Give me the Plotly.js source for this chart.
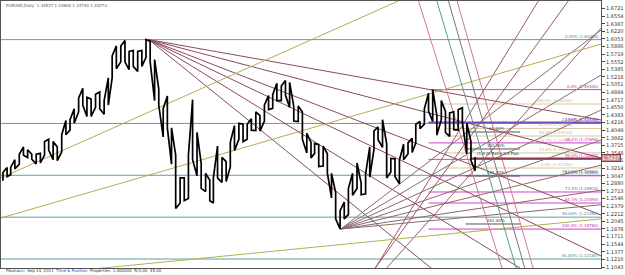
<!DOCTYPE html>
<html><head><meta charset="utf-8">
<script src="https://cdn.plot.ly/plotly-3.0.1.min.js"></script>
<style>html,body{margin:0;padding:0;background:#fff;}#c{width:625px;height:275px;}</style>
</head><body><div id="c"></div>
<script>
// ---- price data: half-month high / low (EURUSD daily) ----
const months = ['2007-02','2007-03','2007-04','2007-05','2007-06','2007-07','2007-08','2007-09','2007-10','2007-11','2007-12',
'2008-01','2008-02','2008-03','2008-04','2008-05','2008-06','2008-07','2008-08','2008-09','2008-10','2008-11','2008-12',
'2009-01','2009-02','2009-03','2009-04','2009-05','2009-06','2009-07','2009-08','2009-09','2009-10','2009-11','2009-12',
'2010-01','2010-02','2010-03','2010-04','2010-05','2010-06','2010-07','2010-08','2010-09','2010-10','2010-11','2010-12',
'2011-01','2011-02','2011-03','2011-04','2011-05','2011-06','2011-07','2011-08','2011-09','2011-10'];
const hi = [1.312,1.323,1.323,1.340,1.352,1.368,1.362,1.352,1.352,1.354,1.380,1.385,1.380,1.368,1.395,1.426,1.428,1.452,1.475,1.497,1.477,1.473,
1.484,1.489,1.470,1.520,1.568,1.590,1.590,1.602,1.578,1.580,1.578,1.580,1.604,1.600,1.560,1.495,1.452,1.480,1.410,1.350,1.300,1.300,1.350,1.472,
1.400,1.332,1.310,1.295,1.300,1.370,1.345,1.336,1.378,1.415,1.420,1.418,1.418,1.430,1.445,1.437,1.460,1.481,1.483,1.508,1.502,1.514,1.510,1.457,
1.458,1.445,1.398,1.378,1.376,1.373,1.370,1.353,1.310,1.268,1.228,1.247,1.277,1.310,1.333,1.288,1.309,1.368,1.403,1.412,1.428,1.375,1.343,1.342,
1.339,1.374,1.377,1.387,1.418,1.424,1.452,1.486,1.494,1.437,1.470,1.446,1.443,1.445,1.450,1.454,1.420,1.380,1.346];
const lo = [1.294,1.303,1.307,1.320,1.330,1.350,1.345,1.341,1.331,1.333,1.350,1.361,1.340,1.338,1.357,1.395,1.405,1.420,1.445,1.460,1.435,1.435,
1.455,1.452,1.440,1.460,1.520,1.540,1.555,1.555,1.538,1.545,1.534,1.545,1.565,1.555,1.470,1.460,1.390,1.410,1.330,1.233,1.245,1.250,1.255,1.340,
1.305,1.277,1.270,1.250,1.245,1.300,1.290,1.292,1.324,1.360,1.385,1.380,1.385,1.405,1.404,1.403,1.425,1.450,1.453,1.470,1.470,1.482,1.455,1.425,
1.424,1.385,1.355,1.344,1.354,1.325,1.326,1.311,1.256,1.210,1.188,1.210,1.220,1.262,1.277,1.263,1.265,1.302,1.362,1.384,1.367,1.300,1.313,1.303,
1.287,1.340,1.353,1.356,1.377,1.408,1.418,1.447,1.424,1.394,1.428,1.400,1.391,1.406,1.405,1.422,1.353,1.338,1.316];
const lastPrice = 1.3427;

// ---- axis ----
const xStart = '2007-01-29', xEnd = '2013-01-01';
const yMin = 1.1021, yMax = 1.6887;
const tickStart = 1.1043, tickStep = 0.0167, tickCount = 35;

// ---- full-width fibo levels (teal) ----
const tealLevels = [1.6038, 1.4197, 1.3058, 1.2138, 1.1218];
const tealPct = ['0.00%', '23.60%', '38.20%', '50.00%', '61.80%'];

// ---- magenta fibo ----
const magStart = '2011-04-20';
const magHigh = 1.4940, magLow = 1.1876;
const magPct = [0, 23.6, 38.2, 50, 61.8, 73.4, 81.3, 100];

// ---- beige fibo ----
const begStart = '2011-06-15';
const begLow = 1.3218, begHigh = 1.4624;
const begPct = [0, 23.6, 38.2, 50, 61.8, 100];

// ---- grey expansion ----
const grStart = '2011-09-01', grEnd = '2012-03-15';
const grPrices = [1.4009, 1.3636, 1.3042, 1.1988];
const grPct = ['61.80%', '100.00%', '161.80%', '261.80%'];

// ---- fan from the 2008 top ----
const fanATime = '2008-07-15', fanAPrice = 1.6038;
const fanAEnds = [1.4273, 1.3438, 1.2185, 1.1285, 0.9922, 0.80];
// ---- fan from the 2010 low ----
const fanBTime = '2010-06-07', fanBPrice = 1.1876;
const fanBEnds = [1.625, 1.526, 1.449, 1.383, 1.328, 1.273, 1.241];
// ---- rising fan from below the chart [t1,p1,t2,p2] ----
const riseLines = [['2010-10-10',1.1021,'2012-05-20',1.6887],['2010-10-10',1.1021,'2012-09-05',1.6887],['2010-11-20',1.1021,'2013-01-01',1.6290]];
// ---- olive channel lines ----
const oliveLines = [['2007-01-29',1.2120,'2013-01-01',1.5940],['2007-01-29',1.3000,'2011-01-01',1.6887],['2007-01-29',1.0800,'2013-01-01',1.2100]];
// ---- steep time lines [t1,p1,t2,p2,color] ----
const steepLines = [['2011-03-15',1.6887,'2012-01-10',1.1021,'#d07890'],['2011-05-20',1.6887,'2012-03-01',1.1021,'#5a9a9a'],
['2011-07-01',1.6887,'2012-04-01',1.1021,'#777777'],['2011-08-01',1.6887,'2012-05-01',1.1021,'#d07890']];

function seg(list){const x=[],y=[];list.forEach(s=>{x.push(s[0],s[2],null);y.push(s[1],s[3],null);});return {x,y};}

const traces = [];
const px=[],py=[];
months.forEach((m,i)=>{
  const d1 = m+'-05', d2 = m+'-20';
  const a=2*i, b=2*i+1;
  if (a < hi.length){ px.push(d1,d1); py.push(lo[a],hi[a]); }
  if (b < hi.length){ px.push(d2,d2); py.push(hi[b],lo[b]); }
});
tealLevels.forEach(p=>traces.push({x:[xStart,xEnd],y:[p,p],mode:'lines',line:{color:'#5f9ea0',width:1},hoverinfo:'skip'}));
magPct.forEach(q=>{const p=magHigh-(magHigh-magLow)*q/100;traces.push({x:[magStart,xEnd],y:[p,p],mode:'lines',line:{color:'#d040c0',width:1},hoverinfo:'skip'});});
begPct.forEach(q=>{const p=begLow+(begHigh-begLow)*q/100;traces.push({x:[begStart,xEnd],y:[p,p],mode:'lines',line:{color:'#d8c8a0',width:1},hoverinfo:'skip'});});
grPrices.forEach(p=>traces.push({x:[grStart,grEnd],y:[p,p],mode:'lines',line:{color:'#555',width:1},hoverinfo:'skip'}));
traces.push(Object.assign(seg(fanAEnds.map(e=>[fanATime,fanAPrice,xEnd,e])),{mode:'lines',line:{color:'#8b4a5a',width:1},hoverinfo:'skip'}));
traces.push(Object.assign(seg(fanBEnds.map(e=>[fanBTime,fanBPrice,xEnd,e])),{mode:'lines',line:{color:'#8a6a6a',width:1},hoverinfo:'skip'}));
traces.push(Object.assign(seg(riseLines),{mode:'lines',line:{color:'#9a5a6a',width:1},hoverinfo:'skip'}));
traces.push(Object.assign(seg(oliveLines),{mode:'lines',line:{color:'#b0b050',width:1},hoverinfo:'skip'}));
steepLines.forEach(s=>traces.push({x:[s[0],s[2]],y:[s[1],s[3]],mode:'lines',line:{color:s[4],width:1},hoverinfo:'skip'}));
traces.push({x:['2011-04-20',xEnd],y:[1.4217,1.4217],mode:'lines',line:{color:'#7050c0',width:2},hoverinfo:'skip'});
traces.push({x:['2011-09-20',xEnd],y:[lastPrice,lastPrice],mode:'lines',line:{color:'#8b3a4a',width:2},hoverinfo:'skip'});
traces.push({x:px,y:py,mode:'lines',line:{color:'#000',width:1.7},hoverinfo:'skip'});

const ann = [];
const tf = {family:'DejaVu Sans',size:4};
tealLevels.forEach((p,i)=>ann.push({x:xEnd,y:p,xref:'x',yref:'y',text:tealPct[i]+' ('+p.toFixed(5)+')',showarrow:false,xanchor:'right',yanchor:'bottom',yshift:-1,font:Object.assign({color:'#4a8a8a'},tf)}));
magPct.forEach(q=>{const p=magHigh-(magHigh-magLow)*q/100;ann.push({x:xEnd,y:p,xref:'x',yref:'y',text:q.toFixed(1)+'% ('+p.toFixed(5)+')',showarrow:false,xanchor:'right',yanchor:'bottom',yshift:-1,font:Object.assign({color:'#c030b0'},tf)});});
begPct.forEach(q=>{const p=begLow+(begHigh-begLow)*q/100;ann.push({x:'2012-10-01',y:p,xref:'x',yref:'y',text:q.toFixed(1)+'% ('+p.toFixed(5)+')',showarrow:false,xanchor:'right',yanchor:'bottom',yshift:-1,font:Object.assign({color:'#c8b890'},tf)});});
grPrices.forEach((p,i)=>ann.push({x:'2011-12-20',y:p,xref:'x',yref:'y',text:grPct[i],showarrow:false,xanchor:'center',yanchor:'bottom',yshift:-1,font:Object.assign({color:'#444'},tf)}));
ann.push({x:'2011-10-05',y:lastPrice,xref:'x',yref:'y',text:'(1:0.0) Ratio 0.0 Pips',showarrow:false,xanchor:'left',yanchor:'bottom',font:Object.assign({color:'#333'},tf)});
ann.push({x:1,y:lastPrice,xref:'paper',yref:'y',text:lastPrice.toFixed(4),showarrow:false,xanchor:'left',yanchor:'middle',bgcolor:'#c89090',bordercolor:'#8b3a4a',borderwidth:1,borderpad:0,font:{family:'DejaVu Sans',size:5,color:'#fff'}});
ann.push({x:0.005,y:1,xref:'paper',yref:'paper',text:'EURUSD,Daily  1.34527 1.34800 1.33740 1.34273',showarrow:false,xanchor:'left',yanchor:'top',font:{family:'DejaVu Sans',size:4,color:'#555'}});
ann.push({x:0.005,y:-0.028,xref:'paper',yref:'paper',text:'Fibonacci  Sep 14, 2011  <span style="color:#2040c0">Time & Position</span>  Properties  1.000000  R/3.00  45.00',showarrow:false,xanchor:'left',yanchor:'bottom',font:{family:'DejaVu Sans',size:4,color:'#333'}});

const tv=[],tt=[];
for(let i=0;i<tickCount;i++){const v=tickStart+i*tickStep;tv.push(v);tt.push(v.toFixed(4));}

Plotly.newPlot('c',traces,{
  width:625,height:275,margin:{l:1,r:24,t:1,b:7},
  paper_bgcolor:'#fff',plot_bgcolor:'#fff',showlegend:false,
  xaxis:{type:'date',range:[xStart,xEnd],showgrid:false,zeroline:false,showticklabels:false,showline:true,linecolor:'#555',mirror:true,ticks:''},
  yaxis:{range:[yMin,yMax],side:'right',showgrid:false,zeroline:false,tickvals:tv,ticktext:tt,ticks:'outside',ticklen:3,tickcolor:'#444',
    tickfont:{family:'DejaVu Sans',size:5,color:'#333'},showline:true,linecolor:'#555',mirror:true},
  annotations:ann
},{staticPlot:true});
</script></body></html>
